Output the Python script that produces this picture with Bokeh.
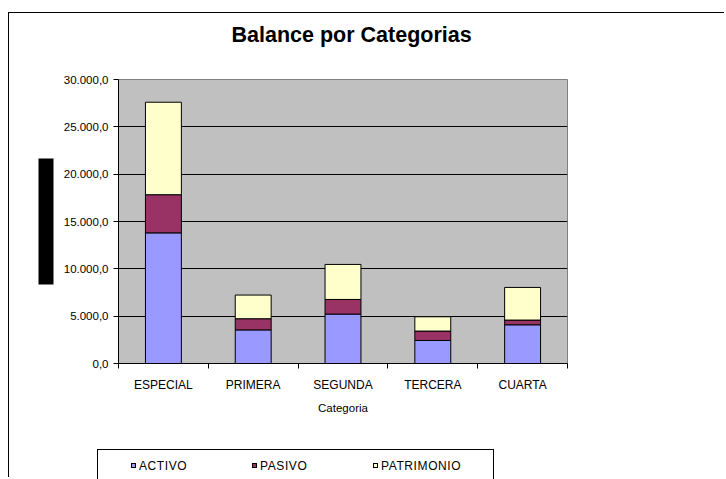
from bokeh.plotting import figure
from bokeh.layouts import column
from bokeh.models import (ColumnDataSource, Range1d, FixedTicker, LinearAxis, Title, Div)
from bokeh.embed import file_html
from bokeh.resources import INLINE

# ---- data ----
categories = ["ESPECIAL", "PRIMERA", "SEGUNDA", "TERCERA", "CUARTA"]
series = ["ACTIVO", "PASIVO", "PATRIMONIO"]
activo = [13800, 3550, 5220, 2430, 4090]
pasivo = [4030, 1180, 1545, 995, 500]
patrimonio = [9770, 2500, 3700, 1510, 3445]
colors = ["#9999FF", "#993366", "#FFFFCC"]
y_ticks = [0, 5000, 10000, 15000, 20000, 25000, 30000]
y_tick_labels = ["0,0", "5.000,0", "10.000,0", "15.000,0", "20.000,0", "25.000,0", "30.000,0"]
title_text = "Balance por Categorias"
x_title = "Categoria"

FONT = "Liberation Sans"

# ---- layout geometry (pixels) ----
W = 724
H_MAIN = 449
H_LEG = 28
FL, FT, FW, FH = 118, 79, 449, 284   # plot-area left, top, width, height

n = len(categories)
y_max = y_ticks[-1]
centers = [i + 0.5 for i in range(n)]
bounds = [float(i) for i in range(n + 1)]

source = ColumnDataSource(dict(x=centers, ACTIVO=activo, PASIVO=pasivo, PATRIMONIO=patrimonio))

fig = figure(width=W, height=H_MAIN, output_backend="svg", toolbar_location=None,
             x_range=Range1d(0, n), y_range=Range1d(0, y_max),
             min_border_left=FL, min_border_right=W - FL - FW, min_border_top=FT,
             min_border_bottom=H_MAIN - FT - FH)
fig.background_fill_color = "#C0C0C0"
fig.border_fill_color = "white"
fig.outline_line_color = "#808080"
fig.outline_line_width = 1

# title
fig.title.text = title_text
fig.title.align = "left"
fig.title.offset = 113
fig.title.text_font = FONT
fig.title.text_font_size = "21.5px"
fig.title.text_font_style = "bold"
fig.title.text_color = "black"
fig.title.standoff = 10

renderers = fig.vbar_stack(series, x="x", width=0.4, source=source,
                           fill_color=colors, line_color="black", line_width=1)

# axes
yax = fig.yaxis[0]
yax.ticker = FixedTicker(ticks=y_ticks)
yax.major_label_overrides = {t: l for t, l in zip(y_ticks, y_tick_labels)}
yax.axis_line_color = "black"
yax.major_tick_line_color = "black"
yax.major_tick_in = 0
yax.major_tick_out = 5
yax.minor_tick_line_color = None
yax.major_label_text_font = FONT
yax.major_label_text_font_size = "11.5px"
yax.major_label_text_color = "black"
yax.major_label_standoff = 5

xax = fig.xaxis[0]
xax.ticker = FixedTicker(ticks=centers, minor_ticks=bounds)
xax.major_label_overrides = {float(c): lab for c, lab in zip(centers, categories)}
xax.axis_line_color = "black"
xax.major_tick_line_color = None
xax.major_tick_out = 5
xax.major_tick_in = 0
xax.minor_tick_line_color = "black"
xax.minor_tick_in = 0
xax.minor_tick_out = 5
xax.major_label_text_font = FONT
xax.major_label_text_font_size = "12px"
xax.major_label_text_color = "black"
xax.major_label_standoff = 9
xax.axis_label = x_title
xax.axis_label_text_font = FONT
xax.axis_label_text_font_style = "normal"
xax.axis_label_text_font_size = "11.5px"
xax.axis_label_text_color = "black"
xax.axis_label_standoff = 7

fig.xgrid.visible = False
fig.ygrid.ticker = FixedTicker(ticks=y_ticks)
fig.ygrid.grid_line_color = "black"
fig.ygrid.grid_line_width = 1

# spacer between title and plot area
fig.add_layout(Title(text=" ", text_font_size="10px", standoff=15), "above")

# black block left of the value axis (hidden axis title), drawn as one wide tick
mid = (y_ticks[0] + y_ticks[-1]) / 2
block_axis = LinearAxis(ticker=FixedTicker(ticks=[mid]),
                        axis_line_color=None, major_tick_line_color="black",
                        major_tick_line_width=126, major_tick_in=-7, major_tick_out=22,
                        minor_tick_line_color=None, major_label_overrides={mid: ""},
                        major_label_standoff=0, major_label_text_font_size="1px")
fig.add_layout(block_axis, "left")

# ---- legend strip + outer chart border (HTML) ----
BORDER_X, BORDER_Y = 8, 12
BOX_L, BOX_T, BOX_W = 97, H_MAIN + 0, 397
ITEM_X0, ITEM_DX, SQ_Y, TXT_Y = 131, 121, 463, 459

parts = ['<div style="position:relative;width:%dpx;height:%dpx;">' % (W, H_LEG)]
top = BORDER_Y - H_MAIN
parts.append('<div style="position:absolute;left:%dpx;top:%dpx;width:1px;height:%dpx;'
             'background:#000;"></div>' % (BORDER_X, top, H_LEG - top))
parts.append('<div style="position:absolute;left:%dpx;top:%dpx;width:%dpx;height:1px;'
             'background:#000;"></div>' % (BORDER_X, top, W - BORDER_X))
parts.append('<div style="position:absolute;left:%dpx;top:%dpx;width:%dpx;height:40px;'
             'border:1px solid #000;box-sizing:border-box;background:#fff;"></div>'
             % (BOX_L, BOX_T - H_MAIN, BOX_W))
for i, (s, c) in enumerate(zip(series, colors)):
    x = ITEM_X0 + ITEM_DX * i
    parts.append('<div style="position:absolute;left:%dpx;top:%dpx;width:5px;height:5px;'
                 'border:1px solid #000;background:%s;"></div>' % (x, SQ_Y - H_MAIN, c))
    parts.append('<span style="position:absolute;left:%dpx;top:%dpx;font-family:\'%s\';'
                 'font-size:12px;line-height:14px;letter-spacing:0.6px;color:#000;'
                 'white-space:nowrap;">%s</span>'
                 % (x + 8, TXT_Y - H_MAIN, FONT, s))
parts.append('</div>')

strip = Div(text="".join(parts), width=W, height=H_LEG, margin=(0, 0, 0, 0))

p = column(fig, strip, spacing=0)

open("out.html", "w").write(file_html(p, INLINE))
